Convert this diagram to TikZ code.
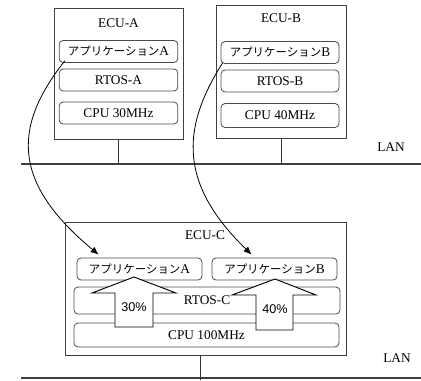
\documentclass[tikz,border=0pt]{standalone}
\usepackage{fontspec}
\setmainfont{Liberation Serif}
\newfontfamily\jpfont{Noto Sans CJK JP}[Scale=0.86]
\newfontfamily\pctfont{Liberation Sans}
\usetikzlibrary{arrows.meta,calc}

\begin{document}
\begin{tikzpicture}[
      x=0.75pt, y=-0.75pt,
      font=\fontsize{10}{12}\selectfont,
      ecu/.style={draw=black!75, line width=0.65pt, inner sep=0pt},
      box/.style={draw=black!70, line width=0.6pt, rounded corners=3pt,
                  inner sep=0pt, minimum width=89pt, minimum height=16.5pt,
                  fill=white},
      lan/.style={draw=black!75, line width=1.1pt},
      stem/.style={draw=black!80, line width=0.6pt},
      arr/.style={-{Latex[length=6pt,width=5pt]}, line width=0.6pt},
      load/.style={draw=black, line width=0.7pt, fill=white},
      pct/.style={font=\pctfont\fontsize{9.5}{11}\selectfont}
    ]
    \useasboundingbox (0,0) rectangle (421,380);

    % ECU-A
    \node[ecu, minimum width=96.75pt, minimum height=98.25pt] (ecuA) at (118.5,73.5) {};
    \node (lblA) at (118.5,23) {ECU-A};
    \node[box] (appA)  at (118.5,51.5) {{\jpfont アプリケーション}A};
    \node[box] (rtosA) at (118.5,80)   {RTOS-A};
    \node[box] (cpuA)  at (118.5,113)  {CPU 30MHz};

    % ECU-B
    \node[ecu, minimum width=97.5pt, minimum height=99.75pt] (ecuB) at (281,71.5) {};
    \node (lblB) at (281,18) {ECU-B};
    \node[box, minimum width=88.5pt] (appB)  at (280,52.5) {{\jpfont アプリケーション}B};
    \node[box, minimum width=88.5pt] (rtosB) at (280,81)   {RTOS-B};
    \node[box, minimum width=88.5pt, minimum height=18pt] (cpuB) at (280,115.5) {CPU 40MHz};

    % upper LAN
    \coordinate (lan1w) at (21,164);
    \coordinate (lan1e) at (421,164);
    \draw[lan] (lan1w) -- (lan1e);
    \node (lan1) at (391,147) {LAN};
    \draw[stem] (ecuA.south) -- (ecuA.south |- lan1w);
    \draw[stem] (ecuB.south) -- (ecuB.south |- lan1w);

    % ECU-C
    \node[ecu, minimum width=210.75pt, minimum height=99.75pt] (ecuC) at (205.5,288.5) {};
    \node (lblC) at (205,235) {ECU-C};
    \node[box, minimum width=93.75pt] (appCA) at (139.5,269) {{\jpfont アプリケーション}A};
    \node[box, minimum width=93.75pt] (appCB) at (274.5,269) {{\jpfont アプリケーション}B};
    \node[box, minimum width=199.5pt, minimum height=20.25pt] (rtosC) at (207,300.5) {};
    \node (lblRtosC) at (207,300) {RTOS-C};
    \node[box, minimum width=198.75pt, minimum height=18pt] (cpuC) at (206.5,335) {CPU 100MHz};

    % load share arrows
    \draw[load] (115,327) -- (115,293) -- (92,293) -- (134,277)
                -- (176,293) -- (153,293) -- (153,327) -- cycle;
    \node[pct] (pctA) at (134,307) {30\%};
    \draw[load] (256,330) -- (256,295) -- (232,295) -- (275,279)
                -- (316,295) -- (293,295) -- (293,330) -- cycle;
    \node[pct] (pctB) at (275,309.5) {40\%};

    % lower LAN
    \coordinate (lan2w) at (21,378);
    \coordinate (lan2e) at (421,378);
    \coordinate (stemC) at (200,380);
    \draw[lan] (lan2w) -- (lan2e);
    \node (lan2) at (397,358) {LAN};
    \draw[stem] (ecuC.south -| stemC) -- (stemC);

    % migration of the applications
    \draw[arr] ($(appA.south west)+(6,-2)$)
      .. controls (10,130) and (15,185) .. ($(appCA.north west)+(22,-3)$);
    \draw[arr] ($(appB.south west)+(2,-1)$)
      .. controls (180,130) and (180,185) .. ($(appCB.north west)+(40,-3)$);
  \end{tikzpicture}
\end{document}
